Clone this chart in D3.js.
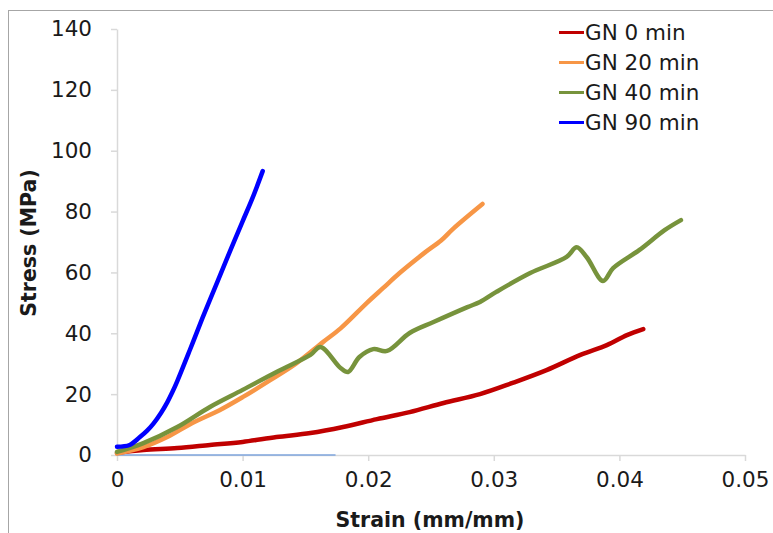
<!DOCTYPE html>
<html><head><meta charset="utf-8">
<script src="https://cdn.jsdelivr.net/npm/d3@7"></script>
<style>html,body{margin:0;padding:0;background:#fff;}svg{display:block;font-family:"DejaVu Sans",sans-serif;}</style>
</head><body><svg id="c" width="773" height="533"></svg>
<script>
const seriesNames = ["GN 0 min","GN 20 min","GN 40 min","GN 90 min"];
const seriesColors = ["#c00000","#f79646","#77933c","#0000ff"];
const gn0 = [[0,0.7],[0.0021,1.6],[0.0048,2.3],[0.0074,3.3],[0.01,4.3],[0.0127,5.9],[0.0154,7.2],[0.018,9.2],[0.0207,11.8],[0.0233,14.1],[0.026,17.1],[0.0289,20.0],[0.0315,23.7],[0.0342,27.9],[0.0369,32.9],[0.039,36.1],[0.0406,39.4],[0.0419,41.4]];
const gn20 = [[0,0.5],[0.0021,2.6],[0.004,5.9],[0.006,10.5],[0.0082,14.8],[0.01,19.0],[0.0122,24.6],[0.0143,30.2],[0.0164,37.1],[0.0178,41.6],[0.0199,50.0],[0.0212,54.9],[0.0225,59.8],[0.0245,66.5],[0.0258,70.5],[0.0268,74.5],[0.0291,82.5]];
const gn40 = [[0,1.0],[0.0021,3.9],[0.0048,9.2],[0.0074,15.8],[0.01,21.4],[0.0127,27.3],[0.0154,32.9],[0.0162,35.5],[0.0178,28.6],[0.0184,27.3],[0.0193,32.2],[0.0204,34.8],[0.0215,34.2],[0.0233,40.1],[0.0252,43.7],[0.0279,48.6],[0.0289,50.3],[0.0302,53.6],[0.0329,59.8],[0.0358,65.1],[0.0366,68.3],[0.0374,65.0],[0.0387,57.2],[0.0395,61.4],[0.0416,67.4],[0.0436,73.9],[0.0449,77.2]];
const gn90 = [[0,2.7],[0.001,3.3],[0.0018,5.8],[0.0024,8.0],[0.0029,10.3],[0.0035,13.8],[0.004,17.3],[0.0044,20.6],[0.0048,24.3],[0.0058,34.5],[0.0068,45.0],[0.008,57.0],[0.009,67.0],[0.01,76.8],[0.0108,84.6],[0.0116,93.3]];
const baseLine = [[0,0],[0.0174,0]];
const xTicks = [0,0.01,0.02,0.03,0.04,0.05];
const yTicks = [0,20,40,60,80,100,120,140];

const svg = d3.select("#c");
const x = d3.scaleLinear().domain([0,0.05]).range([117,745]);
const y = d3.scaleLinear().domain([0,140]).range([455,29]);

svg.append("rect").attr("x",8.5).attr("y",10.5).attr("width",900).attr("height",700)
  .attr("fill","none").attr("stroke","#a6a6a6").attr("stroke-width",1);

const axisColor = "#d9d9d9";
const gx = svg.append("g").attr("transform","translate(0,455)")
  .call(d3.axisBottom(x).tickValues(xTicks).tickSize(6).tickSizeOuter(0).tickPadding(11).tickFormat(d=>d===0?"0":d3.format(".2f")(d)));
const gy = svg.append("g").attr("transform","translate(117,0)")
  .call(d3.axisLeft(y).tickValues(yTicks).tickSize(6).tickSizeOuter(0).tickPadding(19));
[gx,gy].forEach(g=>{
  g.select(".domain").attr("stroke",axisColor).attr("stroke-width",1.5);
  g.selectAll(".tick line").attr("stroke",axisColor).attr("stroke-width",1.5);
  g.selectAll(".tick text").attr("fill","#1a1a1a").style("font-size","21.5px").style("font-family","DejaVu Sans, sans-serif");
});

const line = d3.line().x(d=>x(d[0])).y(d=>y(d[1]));
svg.append("path").datum(baseLine).attr("d",line).attr("fill","none").attr("stroke","#7fa6de").attr("stroke-width",1.5);
const data = [gn0,gn20,gn40,gn90];
data.forEach((s,i)=>{
  svg.append("path").datum(s).attr("d",d3.line().x(d=>x(d[0])).y(d=>y(d[1])).curve(d3.curveCatmullRom.alpha(0.5)))
    .attr("fill","none").attr("stroke",seriesColors[i]).attr("stroke-width",4.5)
    .attr("stroke-linecap","round").attr("stroke-linejoin","round");
});

svg.append("text").attr("x",430).attr("y",520).attr("text-anchor","middle").attr("dominant-baseline","central")
  .style("font-size","20.5px").style("font-weight","bold").attr("fill","#1a1a1a").text("Strain (mm/mm)");
svg.append("text").attr("transform","translate(29,243) rotate(-90)").attr("text-anchor","middle").attr("dominant-baseline","central")
  .style("font-size","20.5px").style("font-weight","bold").attr("fill","#1a1a1a").text("Stress (MPa)");

const leg = svg.append("g");
seriesNames.forEach((n,i)=>{
  const yy = 32.5 + i*30;
  leg.append("line").attr("x1",559).attr("x2",584).attr("y1",yy).attr("y2",yy).attr("stroke",seriesColors[i]).attr("stroke-width",3);
  leg.append("text").attr("x",585).attr("y",yy).attr("dominant-baseline","central").style("font-size","21.5px").attr("fill","#1a1a1a").text(n);
});
</script></body></html>
